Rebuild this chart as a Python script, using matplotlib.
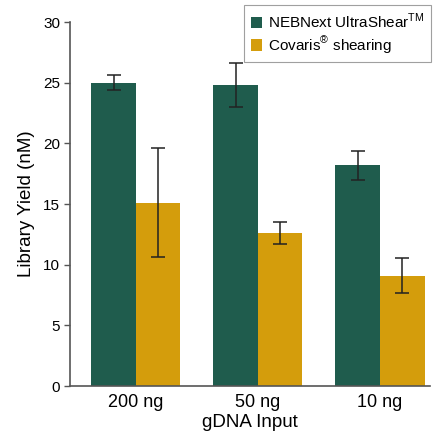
import matplotlib
matplotlib.use("Agg")
import matplotlib.pyplot as plt
import numpy as np

plt.rcParams['font.family'] = ['Liberation Sans', 'DejaVu Sans']

categories = ["200 ng", "50 ng", "10 ng"]
ultrashear = [25.0, 24.8, 18.2]
ultrashear_err = [0.6, 1.8, 1.2]
covaris = [15.1, 12.6, 9.1]
covaris_err = [4.5, 0.9, 1.45]
series_labels = [r"NEBNext UltraShear$^{\mathregular{TM}}$", r"Covaris$^{\mathregular{®}}$ shearing"]
yticks = [0, 5, 10, 15, 20, 25, 30]

green = "#1F5C4D"
gold = "#D49D0C"
axis_col = "#555555"

fig = plt.figure(figsize=(4.33, 4.34), dpi=100)
ax = fig.add_axes([70/433, 1-386/434, (430-70)/433, (386-22)/434])

x = np.arange(len(categories))
w = 0.365
ekw = dict(ecolor="#222222", elinewidth=1.1, capsize=5, capthick=1.1)
ax.bar(x - w/2, ultrashear, w, color=green, label=series_labels[0],
       yerr=ultrashear_err, error_kw=ekw)
ax.bar(x + w/2, covaris, w, color=gold, label=series_labels[1],
       yerr=covaris_err, error_kw=ekw)

ax.set_xlim(-0.54, 2.41)
ax.set_ylim(0, 30)
ax.set_yticks(yticks)
ax.set_xticks(x)
ax.set_xticklabels(categories, fontsize=13)
ax.tick_params(axis='x', length=0, pad=6)
ax.tick_params(axis='y', direction='out', length=4, width=1, color=axis_col, labelsize=11, pad=3)
for s in ['top', 'right']:
    ax.spines[s].set_visible(False)
for s in ['left', 'bottom']:
    ax.spines[s].set_color(axis_col)
    ax.spines[s].set_linewidth(1.2)

ax.set_ylabel("Library Yield (nM)", fontsize=13.5, labelpad=6)
ax.set_xlabel("gDNA Input", fontsize=13.5, labelpad=2)

leg = fig.legend(loc='upper right', bbox_to_anchor=(431/433, 1-5/434), fontsize=11,
                 frameon=True, fancybox=False, edgecolor="#888888",
                 handlelength=0.75, handleheight=0.75, handletextpad=0.35,
                 borderpad=0.45, labelspacing=0.2, borderaxespad=0.0)
leg.get_frame().set_linewidth(0.8)

fig.savefig("out.png", dpi=100)
